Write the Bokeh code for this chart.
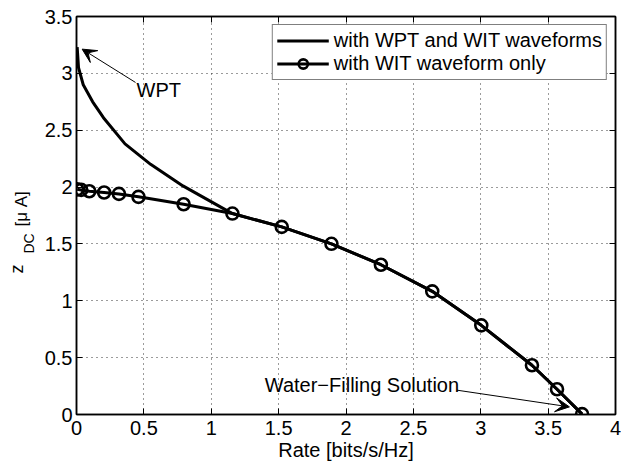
import math
from bokeh.plotting import figure
from bokeh.layouts import row
from bokeh.models import (Range1d, LinearAxis, FixedTicker, Legend, LegendItem,
                          Label, Arrow, VeeHead)
from bokeh.core.properties import value
from bokeh.embed import file_html
from bokeh.resources import INLINE

# ---- data ----
wpt_rate = [0.005, 0.015, 0.05, 0.12, 0.2, 0.36, 0.55, 0.79, 1.157, 1.523,
            1.892, 2.259, 2.64, 3.004, 3.38, 3.566, 3.752]
wpt_z = [3.23, 3.05, 2.9, 2.75, 2.61, 2.38, 2.2, 2.01, 1.767, 1.65,
         1.501, 1.317, 1.083, 0.784, 0.433, 0.222, 0.003]

wit_rate = [0.005, 0.035, 0.095, 0.205, 0.315, 0.46, 0.795, 1.157, 1.523,
            1.892, 2.259, 2.64, 3.004, 3.38, 3.566, 3.752]
wit_z = [1.98, 1.975, 1.963, 1.952, 1.94, 1.914, 1.849, 1.767, 1.65,
         1.501, 1.317, 1.083, 0.784, 0.433, 0.222, 0.003]

x_ticks = [0, 0.5, 1, 1.5, 2, 2.5, 3, 3.5, 4]
x_tick_labels = ["0", "0.5", "1", "1.5", "2", "2.5", "3", "3.5", "4"]
y_ticks = [0, 0.5, 1, 1.5, 2, 2.5, 3, 3.5]
y_tick_labels = ["0", "0.5", "1", "1.5", "2", "2.5", "3", "3.5"]

legend_labels = ["with WPT and WIT waveforms", "with WIT waveform only"]
x_label = "Rate [bits/s/Hz]"
y_label_parts = ["z", "DC", "[\u03bc A]"]

FONT = "Liberation Sans"
FS = "20px"

LABEL_W = 36
TOTAL_W, TOTAL_H = 621, 463

# ---------------- main plot ----------------
p = figure(width=TOTAL_W - LABEL_W, height=TOTAL_H, output_backend="svg",
           toolbar_location=None, title=None,
           x_range=Range1d(0, 4), y_range=Range1d(0, 3.5),
           min_border_left=76 - LABEL_W, min_border_right=6, min_border_top=16,
           min_border_bottom=49)
p.background_fill_color = "white"
p.border_fill_color = "white"
p.outline_line_color = "black"
p.outline_line_width = 1.5


def style_axis(ax, ticks, labels, show_labels=True):
    ax.ticker = FixedTicker(ticks=ticks)
    if show_labels:
        ax.major_label_overrides = {t: l for t, l in zip(ticks, labels)}
        ax.major_label_text_font_size = FS
    else:
        ax.major_label_overrides = {t: "" for t in ticks}
        ax.major_label_text_font_size = "1px"
        ax.major_label_standoff = 0
    ax.major_label_text_font = FONT
    ax.major_label_text_color = "black"
    ax.major_tick_in = 6
    ax.major_tick_out = 0
    ax.minor_tick_line_color = None
    ax.axis_line_color = "black"
    ax.axis_line_width = 1.5
    ax.major_tick_line_color = "black"
    ax.major_tick_line_width = 1


style_axis(p.xaxis[0], x_ticks, x_tick_labels)
style_axis(p.yaxis[0], y_ticks, y_tick_labels)
p.xaxis[0].major_label_standoff = 6
p.yaxis[0].major_label_standoff = 4
p.xaxis[0].axis_label = x_label
p.xaxis[0].axis_label_text_font = FONT
p.xaxis[0].axis_label_text_font_size = FS
p.xaxis[0].axis_label_text_font_style = "normal"
p.xaxis[0].axis_label_text_color = "black"
p.xaxis[0].axis_label_standoff = 1

top = LinearAxis()
right = LinearAxis()
style_axis(top, x_ticks, x_tick_labels, show_labels=False)
style_axis(right, y_ticks, y_tick_labels, show_labels=False)
p.add_layout(top, "above")
p.add_layout(right, "right")

for g in (p.xgrid[0], p.ygrid[0]):
    g.grid_line_color = "#222222"
    g.grid_line_alpha = 0.9
    g.grid_line_dash = "1 4"
    g.grid_line_width = 1
p.xgrid[0].ticker = FixedTicker(ticks=x_ticks)
p.ygrid[0].ticker = FixedTicker(ticks=y_ticks)

r1 = p.line(wpt_rate, wpt_z, line_color="black", line_width=3)
r2 = p.line(wit_rate, wit_z, line_color="black", line_width=3)
r3 = p.scatter(wit_rate, wit_z, marker="circle", size=12, line_color="black",
               line_width=2.6, fill_color=None)

legend = Legend(items=[LegendItem(label=legend_labels[0], renderers=[r1]),
                       LegendItem(label=legend_labels[1], renderers=[r2, r3])],
                location="top_right")
legend.margin = 8
legend.padding = 4
legend.spacing = 0
legend.glyph_width = 52
legend.glyph_height = 23
legend.label_height = 23
legend.label_standoff = 5
legend.label_text_font = FONT
legend.label_text_font_size = FS
legend.label_text_color = "black"
legend.border_line_color = "black"
legend.border_line_width = 1.5
legend.background_fill_color = "white"
legend.background_fill_alpha = 1
p.add_layout(legend)

# annotations
p.add_layout(Arrow(end=VeeHead(size=14, fill_color="black", line_color="black"),
                   x_start=0.438, y_start=2.92, x_end=0.042, y_end=3.213,
                   line_width=1, line_color="black"))
p.add_layout(Label(x=0.446, y=2.76, text="WPT", text_font=FONT,
                   text_font_size=FS, text_color="black"))

p.add_layout(Arrow(end=VeeHead(size=14, fill_color="black", line_color="black"),
                   x_start=2.823, y_start=0.214, x_end=3.658, y_end=0.067,
                   line_width=1, line_color="black"))
p.add_layout(Label(x=1.397, y=0.16, text="Water\u2212Filling Solution",
                   text_font=FONT, text_font_size=FS, text_color="black"))

# ---------------- y-axis label strip (z_DC [μ A]) ----------------
q = figure(frame_width=LABEL_W, frame_height=TOTAL_H, output_backend="svg",
           toolbar_location=None, title=None,
           x_range=Range1d(0, LABEL_W), y_range=Range1d(0, TOTAL_H),
           x_axis_type=None, y_axis_type=None,
           min_border_left=0, min_border_right=0, min_border_top=0, min_border_bottom=0)
q.outline_line_color = None
q.background_fill_color = "white"
q.border_fill_color = "white"
q.xgrid.visible = False
q.ygrid.visible = False
ang = math.pi / 2
# pixel positions within the strip (x = baseline, y measured from the bottom)
q.text(x=[16], y=[TOTAL_H - 257], text=[y_label_parts[0]], angle=ang,
       text_font=value(FONT), text_font_size="18px", text_color="black",
       text_align="left", text_baseline="alphabetic")
q.text(x=[28], y=[TOTAL_H - 237], text=[y_label_parts[1]], angle=ang,
       text_font=value(FONT), text_font_size="14px", text_color="black",
       text_align="left", text_baseline="alphabetic")
q.text(x=[21], y=[TOTAL_H - 210], text=[y_label_parts[2]], angle=ang,
       text_font=value(FONT), text_font_size="17px", text_color="black",
       text_align="left", text_baseline="alphabetic")

layout = row(q, p, spacing=0)
open("out.html", "w").write(file_html(layout, INLINE))
